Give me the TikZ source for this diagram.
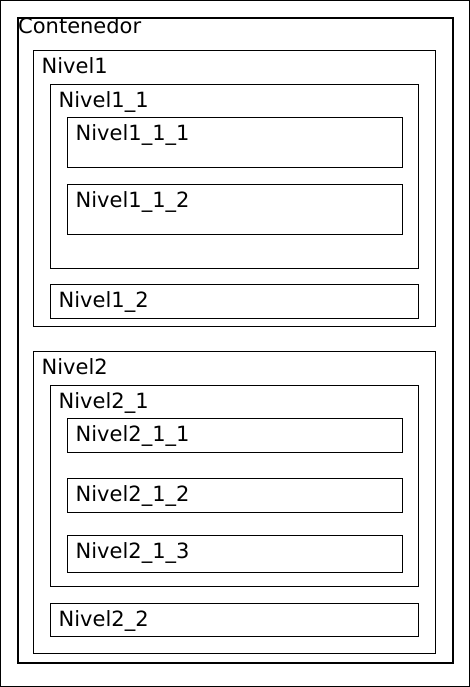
\documentclass[tikz,border=0pt]{standalone}
\usepackage{fontspec}
\setmainfont{DejaVu Sans}
\begin{document}
\begin{tikzpicture}[
	x=1pt,
	y=-1pt,
	box/.style={
		rectangle,
		draw=black,
		line width=1pt,
		inner sep=0pt,
		anchor=north west
		},
	main/.style={
		line width=2pt
	},
	tag/.style={
		anchor=base west,
		inner sep=0pt,
		font=\fontsize{21}{25}\selectfont
	}
]

% Frame
\useasboundingbox (0,0) rectangle (470,687);
\draw[line width=1pt] (0.5,0.5) rectangle (469.5,686.5);

% Boxes
\node [box, main, minimum width=435, minimum height=645] (Contenedor) at (17,17) {};
\node [box, minimum width=402, minimum height=276] (Nivel1) at (33,50) {};
\node [box, minimum width=368, minimum height=184] (Nivel1_1) at (50,84) {};
\node [box, minimum width=335, minimum height=50] (Nivel1_1_1) at (67,117) {};
\node [box, minimum width=335, minimum height=50] (Nivel1_1_2) at (67,184) {};
\node [box, minimum width=368, minimum height=34] (Nivel1_2) at (50,284) {};
\node [box, minimum width=402, minimum height=302] (Nivel2) at (33,351) {};
\node [box, minimum width=368, minimum height=201] (Nivel2_1) at (50,385) {};
\node [box, minimum width=335, minimum height=34] (Nivel2_1_1) at (67,418) {};
\node [box, minimum width=335, minimum height=34] (Nivel2_1_2) at (67,478) {};
\node [box, minimum width=335, minimum height=37] (Nivel2_1_3) at (67,535) {};
\node [box, minimum width=368, minimum height=33] (Nivel2_2) at (50,603) {};

% Labels
\node [tag] (Contenedor label) at ([shift={(1,17)}]Contenedor.north west) {Contenedor};
\foreach \name/\text in {Nivel1/Nivel1, Nivel1_1/Nivel1\_1, Nivel1_1_1/Nivel1\_1\_1,
	Nivel1_1_2/Nivel1\_1\_2, Nivel1_2/Nivel1\_2, Nivel2/Nivel2, Nivel2_1/Nivel2\_1,
	Nivel2_1_1/Nivel2\_1\_1, Nivel2_1_2/Nivel2\_1\_2, Nivel2_1_3/Nivel2\_1\_3, Nivel2_2/Nivel2\_2}
	\node [tag] (\name label) at ([shift={(8.5,23.5)}]\name.north west) {\text};
\end{tikzpicture}
\end{document}
